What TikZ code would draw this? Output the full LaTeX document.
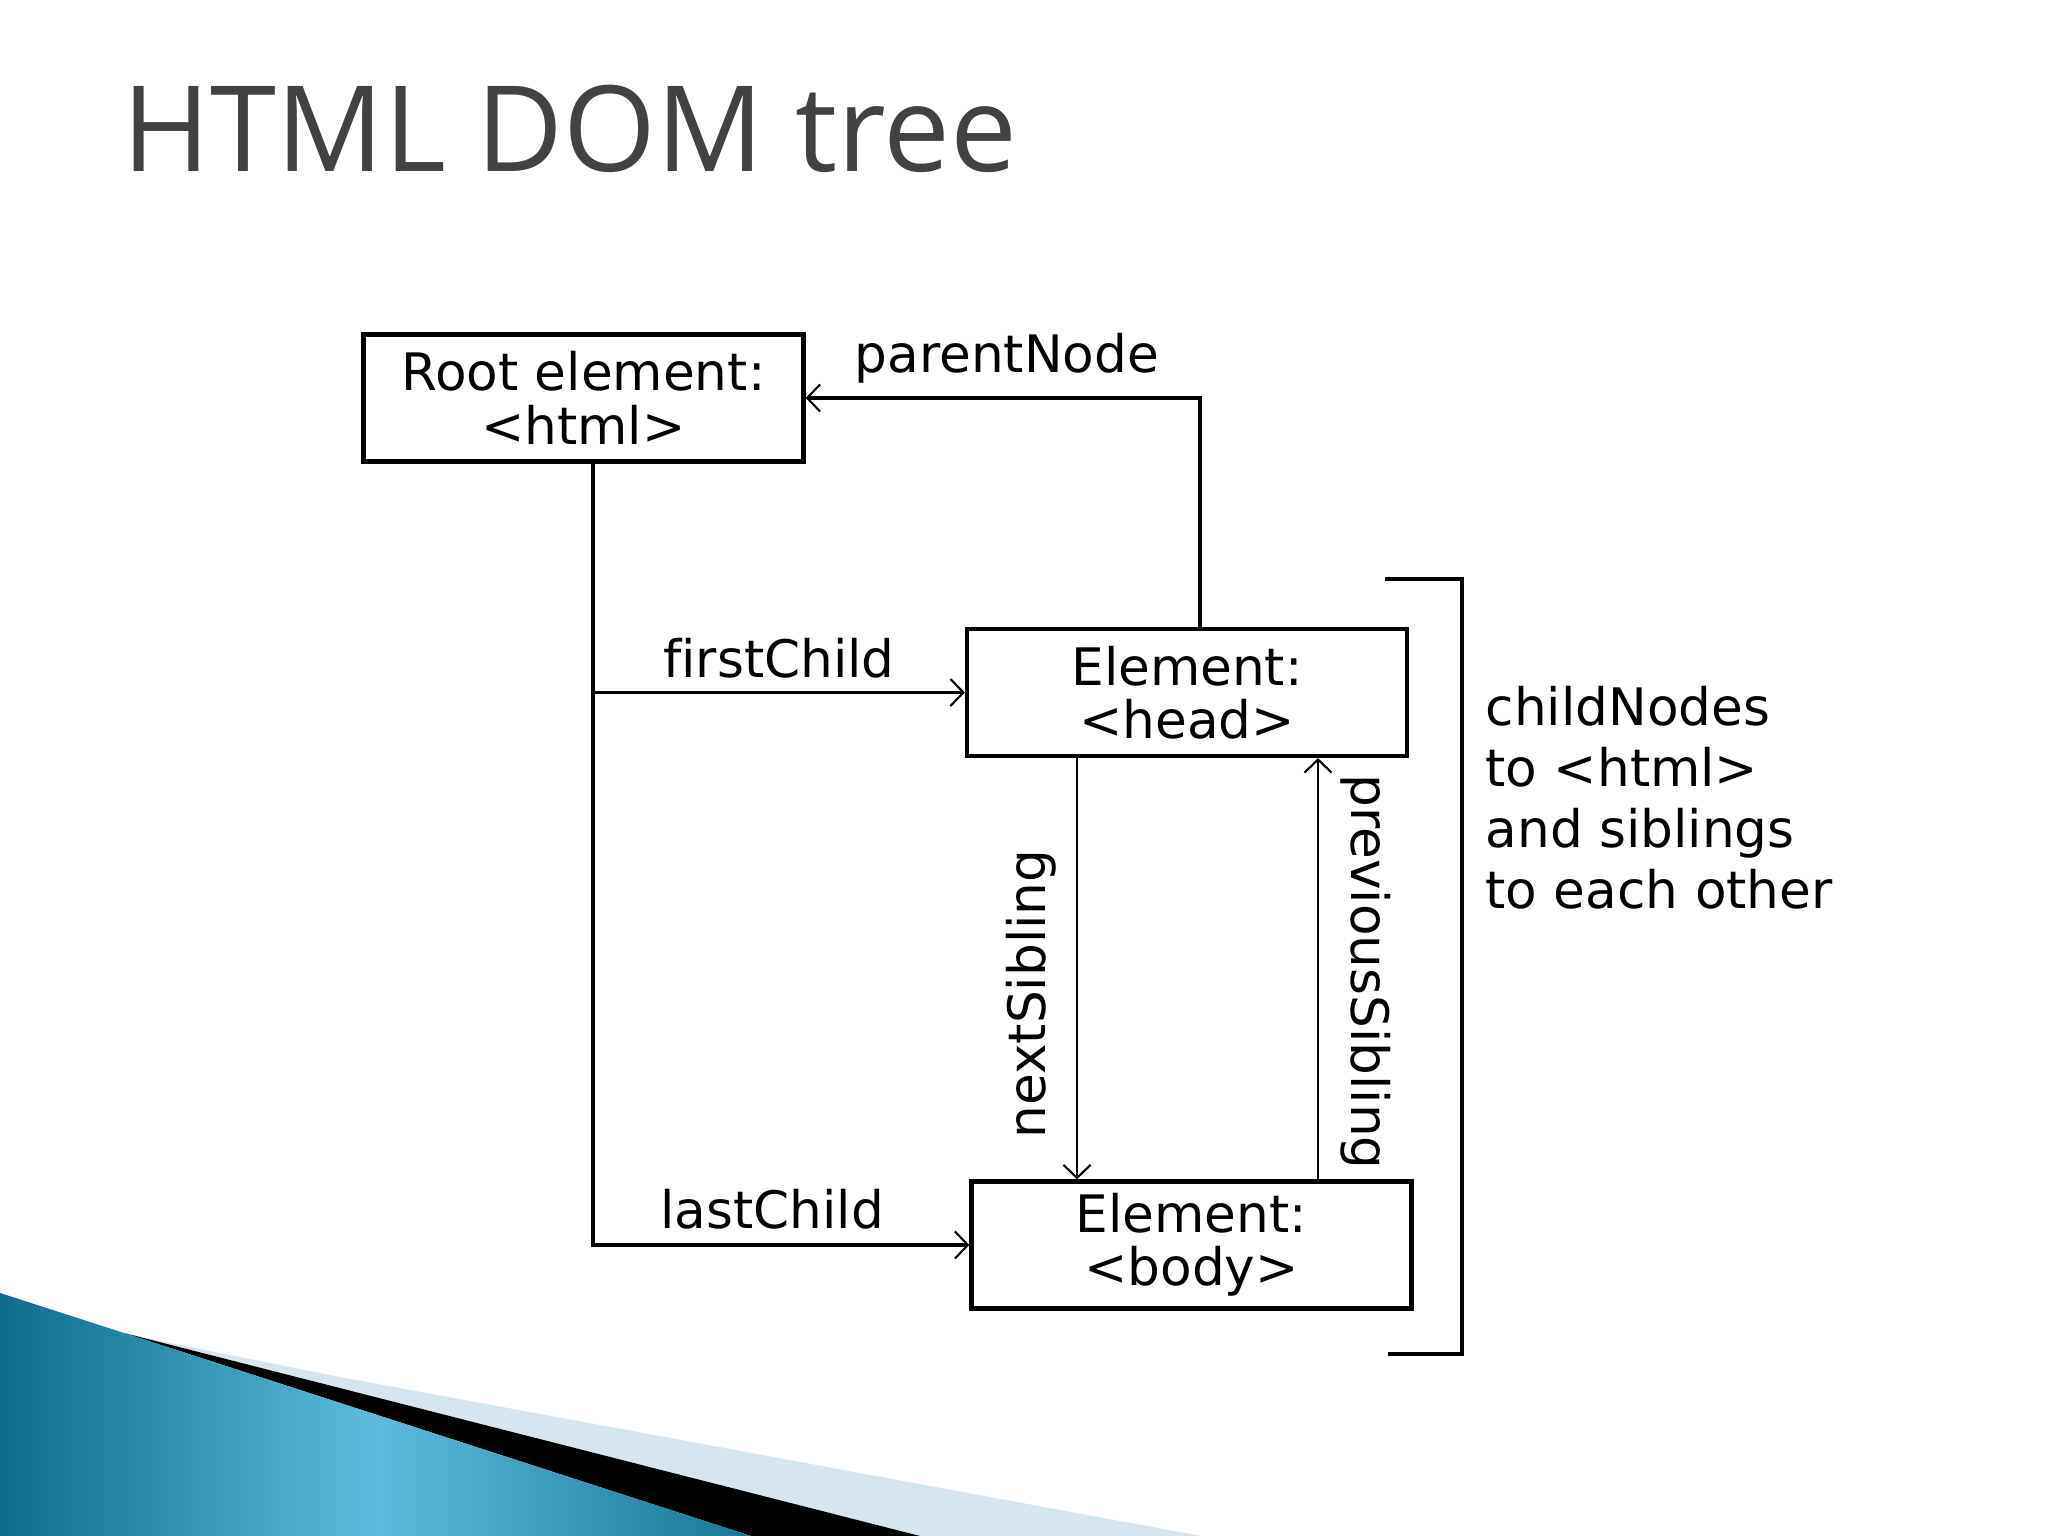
\documentclass[tikz,border=0pt]{standalone}
\usepackage{fontspec}
\setmainfont{DejaVu Sans}[Ligatures=NoCommon]
\newfontfamily\domtitlefont{Open Sans}
\usepackage{xcolor}
\usepackage{tikz}
\usetikzlibrary{arrows.meta,calc,positioning}
\definecolor{domInk}{HTML}{000000}
\definecolor{domTitle}{HTML}{424242}
\definecolor{domTeal}{HTML}{0E6C8A}
\definecolor{domSky}{HTML}{5DBBDD}
\definecolor{domPale}{HTML}{D6E6F0}
\tikzset{
  domnode/.style={rectangle,draw=domInk,line width=1.2pt,minimum width=4.4cm,
                  minimum height=1.27cm,inner sep=0pt,align=center,
                  font=\fontsize{14.7}{15.2}\selectfont},
  domarrow/.style={-{Straight Barb[length=1.3mm,width=2.7mm,line width=0.6pt]},
                   line width=1.1pt,domInk},
  domsib/.style={domarrow,line width=0.8pt},
  domlabel/.style={inner sep=0pt,font=\fontsize{14.7}{15.2}\selectfont},
  dombracket/.style={line width=1.3pt,domInk}
}

\begin{document}
\begin{tikzpicture}[x=1cm,y=1cm]
    \useasboundingbox (0,0) rectangle (20.48,15.36);
    \fill[domPale] (1.24,2.03) -- (1.70,1.93) -- (3.40,1.59) -- (12.01,0)
      -- (9.20,0) -- cycle;
    \fill[black] (1.24,2.03) -- (9.20,0) -- (7.51,0) -- cycle;
    \shade[left color=domTeal,right color=domTeal!85!domSky,middle color=domSky]
      (0,2.43) -- (1.24,2.03) -- (7.51,0) -- (0,0) -- cycle;

    \node[anchor=base west,inner sep=0pt,text=domTitle,
          font=\domtitlefont\fontsize{33.9}{40}\selectfont] (title)
      at (1.22,13.64) {HTML DOM tree};

    \node[domnode] (html) at (5.835,11.38) {Root element:\\<html>};
    \node[domnode] (head) at (11.87,8.435) {Element:\\<head>};
    \node[domnode] (body) at (11.915,2.91) {Element:\\<body>};

    \coordinate (trunk) at ([xshift=0.95mm]html.south);
    \draw[domarrow] (trunk) |- (body.west)
      node[domlabel,pos=0.75,anchor=base,xshift=-0.9mm,yshift=1.6mm] (lastlbl)
      {lastChild};
    \draw[domarrow] (trunk |- head.west) -- (head.west)
      node[domlabel,midway,anchor=base,yshift=1.5mm] (firstlbl) {firstChild};
    \draw[domarrow] ([xshift=1.3mm]head.north) |- (html.east)
      node[domlabel,pos=0.75,anchor=base,xshift=0.4mm,yshift=2.5mm] (parentlbl)
      {parentNode};

    \coordinate (nexttop) at ([xshift=-11mm]head.south);
    \draw[domsib] (nexttop) -- (nexttop |- body.north);
    \node[domlabel,rotate=90,anchor=base] (nextlbl) at (10.45,5.42) {nextSibling};

    \coordinate (prevbot) at ([xshift=12.65mm]body.north);
    \draw[domsib] (prevbot) -- (prevbot |- head.south);
    \node[domlabel,rotate=-90,anchor=base] (prevlbl) at (13.51,5.64)
      {previousSibling};

    \draw[dombracket] (13.85,9.57) -| (14.62,1.82) -- (13.88,1.82);
    \node[domlabel,anchor=base west,align=left,
          font=\fontsize{14.7}{17.4}\selectfont] (sidenote) at (14.85,6.27)
      {childNodes\\to <html>\\and siblings\\to each other};
\end{tikzpicture}
\end{document}
